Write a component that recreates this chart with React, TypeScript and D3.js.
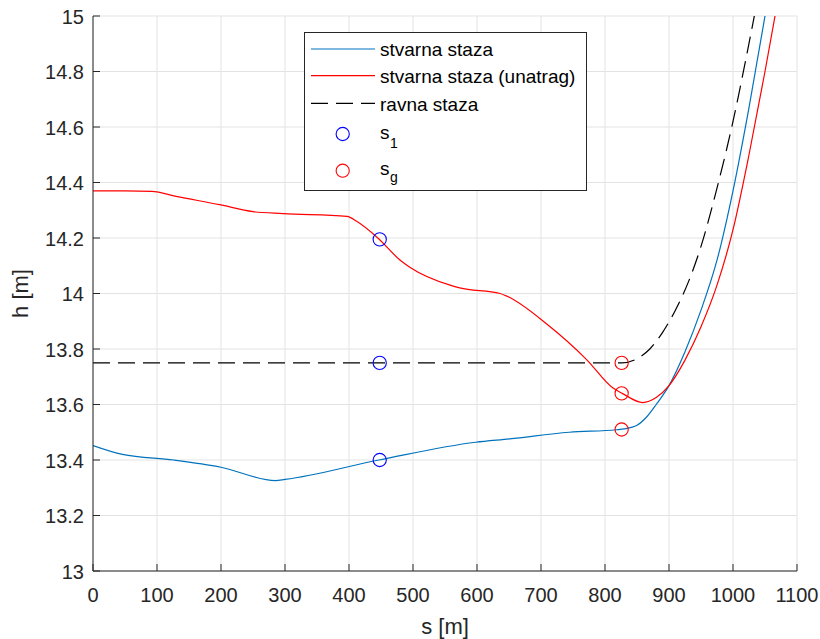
import React from "react";
import * as d3 from "d3";

// ---- data ----
const blueS = [0, 46, 126, 200, 285, 300, 447, 598, 651, 744, 818, 830, 850, 865, 880, 900, 925, 950, 975, 1000, 1025, 1050, 1062];
const blueH = [13.452, 13.42, 13.4, 13.374, 13.326, 13.33, 13.4, 13.464, 13.476, 13.5, 13.509, 13.512, 13.525, 13.555, 13.6, 13.668, 13.79, 13.94, 14.12, 14.37, 14.67, 15.0, 15.17];

const redS = [0, 50, 92, 130, 198, 250, 297, 397, 412, 445, 480, 495, 558, 573, 636, 647, 709, 772, 812, 827, 859, 880, 900, 925, 950, 975, 1000, 1025, 1050, 1068, 1078];
const redH = [14.37, 14.37, 14.368, 14.35, 14.32, 14.295, 14.288, 14.278, 14.26, 14.2, 14.12, 14.095, 14.03, 14.02, 14.0, 13.99, 13.89, 13.76, 13.66, 13.64, 13.607, 13.625, 13.668, 13.76, 13.88, 14.03, 14.23, 14.5, 14.8, 15.03, 15.16];

const flatS = [0, 826, 850, 870, 890, 910, 930, 950, 975, 1000, 1018, 1035, 1045];
const flatH = [13.75, 13.75, 13.765, 13.8, 13.86, 13.94, 14.04, 14.17, 14.38, 14.62, 14.82, 15.02, 15.14];

const s1S = [448, 448, 448];
const s1H = [14.195, 13.75, 13.4];
const sgS = [826, 826, 826];
const sgH = [13.75, 13.64, 13.51];

const xTicks = [0, 100, 200, 300, 400, 500, 600, 700, 800, 900, 1000, 1100];
const yTicks = [13, 13.2, 13.4, 13.6, 13.8, 14, 14.2, 14.4, 14.6, 14.8, 15];

const legendLabels = ["stvarna staza", "stvarna staza (unatrag)", "ravna staza"];

const W = 820;
const H = 639;
const L = 93, R = 797, T = 16, B = 571;
const FONT = "'Liberation Sans', Arial, Helvetica, sans-serif";
const AX = "#262626";

export default function App() {
  const x = d3.scaleLinear().domain([0, 1100]).range([L, R]);
  const y = d3.scaleLinear().domain([13, 15]).range([B, T]);
  const line = d3
    .line<[number, number]>()
    .x((d) => x(d[0]))
    .y((d) => y(d[1]))
    .curve(d3.curveMonotoneX);
  const zip = (a: number[], b: number[]) => a.map((v, i) => [v, b[i]] as [number, number]);

  const legendRows = [
    { y: 49, color: "#0072BD", dash: undefined as string | undefined },
    { y: 75.7, color: "#FF0000", dash: undefined },
    { y: 103.3, color: "#000000", dash: "17,8" },
  ];

  return (
    <svg width={W} height={H} style={{ position: "absolute", left: 0, top: 0, background: "#fff" }} fontFamily={FONT}>
      <defs>
        <clipPath id="plotclip">
          <rect x={L} y={T} width={R - L} height={B - T} />
        </clipPath>
      </defs>
      <rect x={0} y={0} width={W} height={H} fill="#fff" />
      {/* grid */}
      {xTicks.map((t) => (
        <line key={"gx" + t} x1={x(t)} x2={x(t)} y1={T} y2={B} stroke="#e3e3e3" strokeWidth={1} />
      ))}
      {yTicks.map((t) => (
        <line key={"gy" + t} x1={L} x2={R} y1={y(t)} y2={y(t)} stroke="#e3e3e3" strokeWidth={1} />
      ))}
      {/* lines */}
      <g clipPath="url(#plotclip)" fill="none">
        <path d={line(zip(flatS, flatH)) || ""} stroke="#000" strokeWidth={1.2} strokeDasharray="17,8" />
        <path d={line(zip(blueS, blueH)) || ""} stroke="#0072BD" strokeWidth={1.2} />
        <path d={line(zip(redS, redH)) || ""} stroke="#FF0000" strokeWidth={1.2} />
      </g>
      {/* markers */}
      {s1S.map((s, i) => (
        <circle key={"s1" + i} cx={x(s)} cy={y(s1H[i])} r={6.6} fill="none" stroke="#0000FF" strokeWidth={1.1} />
      ))}
      {sgS.map((s, i) => (
        <circle key={"sg" + i} cx={x(s)} cy={y(sgH[i])} r={6.6} fill="none" stroke="#FF0000" strokeWidth={1.1} />
      ))}
      {/* axes */}
      <line x1={L} x2={R} y1={B} y2={B} stroke={AX} strokeWidth={1} />
      <line x1={L} x2={L} y1={T} y2={B} stroke={AX} strokeWidth={1} />
      {xTicks.map((t) => (
        <g key={"xt" + t}>
          <line x1={x(t)} x2={x(t)} y1={B} y2={B - 7} stroke={AX} strokeWidth={1} />
          <text x={x(t)} y={602} textAnchor="middle" fontSize={20} fill={AX}>
            {t}
          </text>
        </g>
      ))}
      {yTicks.map((t) => (
        <g key={"yt" + t}>
          <line x1={L} x2={L + 7} y1={y(t)} y2={y(t)} stroke={AX} strokeWidth={1} />
          <text x={84} y={y(t) + 7.5} textAnchor="end" fontSize={20} fill={AX}>
            {String(t)}
          </text>
        </g>
      ))}
      <text x={(L + R) / 2} y={634} textAnchor="middle" fontSize={22} fill={AX}>
        s [m]
      </text>
      <text transform={`translate(28,${(T + B) / 2}) rotate(-90)`} textAnchor="middle" fontSize={22} fill={AX}>
        h [m]
      </text>
      {/* legend */}
      <rect x={304.5} y={32.5} width={282} height={158} fill="#fff" stroke={AX} strokeWidth={1} />
      {legendRows.map((r, i) => (
        <g key={"lg" + i}>
          <line x1={311} x2={375} y1={r.y} y2={r.y} stroke={r.color} strokeWidth={1.2} strokeDasharray={r.dash} />
          <text x={380} y={r.y + 7.3} fontSize={19} fill="#000">
            {legendLabels[i]}
          </text>
        </g>
      ))}
      <circle cx={342.7} cy={134} r={6.6} fill="none" stroke="#0000FF" strokeWidth={1.1} />
      <text x={380} y={138.5} fontSize={19} fill="#000">
        s
      </text>
      <text x={390} y={148} fontSize={14} fill="#000">
        1
      </text>
      <circle cx={342.7} cy={170.7} r={6.6} fill="none" stroke="#FF0000" strokeWidth={1.1} />
      <text x={380} y={175} fontSize={19} fill="#000">
        s
      </text>
      <text x={390} y={181.5} fontSize={14} fill="#000">
        g
      </text>
    </svg>
  );
}
